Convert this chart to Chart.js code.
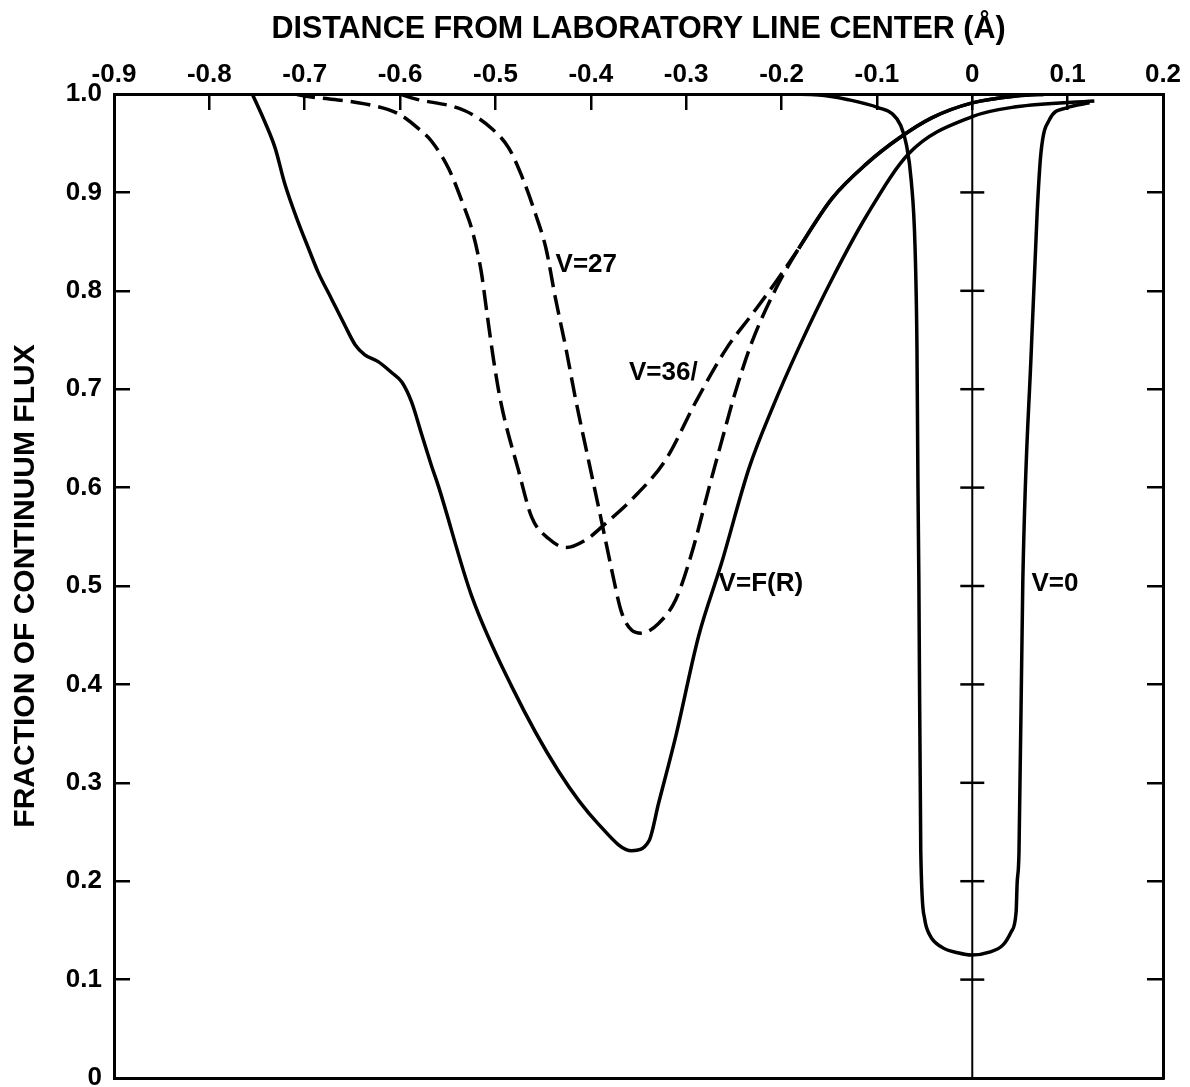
<!DOCTYPE html>
<html>
<head>
<meta charset="utf-8">
<script src="https://cdn.jsdelivr.net/npm/chart.js@4.4.1/dist/chart.umd.min.js"></script>
<style>
  html, body { margin: 0; padding: 0; background: #fff; }
</style>
</head>
<body>
<canvas id="chart" width="1190" height="1087"></canvas>
<script>
// tick values on the axes
const xTickValues = [-0.9, -0.8, -0.7, -0.6, -0.5, -0.4, -0.3, -0.2, -0.1, 0, 0.1, 0.2];
const yTickValues = [0, 0.1, 0.2, 0.3, 0.4, 0.5, 0.6, 0.7, 0.8, 0.9, 1.0];
// small cross ticks on the x = 0 line
const crossY = [0.1, 0.2, 0.3, 0.4, 0.5, 0.6, 0.7, 0.8, 0.9];

// profiles: [distance (A), fraction of continuum]
const profileFR = [
  [-0.755, 1.0], [-0.742, 0.972], [-0.731, 0.945], [-0.721, 0.909], [-0.707, 0.870],
  [-0.696, 0.843], [-0.686, 0.819], [-0.672, 0.792], [-0.658, 0.765], [-0.647, 0.745],
  [-0.637, 0.735], [-0.623, 0.728], [-0.609, 0.717], [-0.598, 0.707], [-0.588, 0.687],
  [-0.578, 0.656], [-0.567, 0.622], [-0.560, 0.602], [-0.525, 0.490], [-0.483, 0.398],
  [-0.434, 0.312], [-0.392, 0.258], [-0.357, 0.231], [-0.339, 0.241], [-0.329, 0.279],
  [-0.311, 0.347], [-0.287, 0.449], [-0.263, 0.523], [-0.234, 0.620], [-0.210, 0.680],
  [-0.182, 0.742], [-0.147, 0.812], [-0.111, 0.876], [-0.066, 0.940], [0, 0.977],
  [0.046, 0.987], [0.128, 0.993]
];

const profileV36 = [
  [-0.71, 1.0], [-0.70, 0.998], [-0.637, 0.990], [-0.602, 0.980], [-0.581, 0.965],
  [-0.567, 0.952], [-0.549, 0.924], [-0.534, 0.888], [-0.524, 0.860], [-0.515, 0.820],
  [-0.509, 0.778], [-0.502, 0.730], [-0.494, 0.685], [-0.476, 0.618], [-0.462, 0.570],
  [-0.444, 0.548], [-0.426, 0.539], [-0.405, 0.547], [-0.384, 0.564], [-0.357, 0.588],
  [-0.321, 0.629], [-0.290, 0.687], [-0.258, 0.741], [-0.231, 0.776], [-0.206, 0.809],
  [-0.182, 0.843], [-0.147, 0.894], [-0.111, 0.929], [-0.077, 0.955], [-0.042, 0.976],
  [0, 0.991], [0.046, 0.998], [0.081, 1.0]
];

const profileV27 = [
  [-0.600, 1.0], [-0.588, 0.996], [-0.532, 0.983], [-0.504, 0.965], [-0.486, 0.945],
  [-0.473, 0.918], [-0.458, 0.878], [-0.447, 0.843], [-0.437, 0.792], [-0.426, 0.741],
  [-0.416, 0.690], [-0.402, 0.626], [-0.389, 0.567], [-0.378, 0.516], [-0.368, 0.474],
  [-0.357, 0.455], [-0.347, 0.452], [-0.329, 0.462], [-0.311, 0.486], [-0.294, 0.534],
  [-0.276, 0.600], [-0.262, 0.650], [-0.250, 0.692], [-0.231, 0.748], [-0.206, 0.802],
  [-0.182, 0.843], [-0.147, 0.894], [-0.111, 0.929], [-0.077, 0.955], [-0.042, 0.976],
  [0, 0.991], [0.046, 0.998], [0.081, 1.0]
];

const profileV0 = [
  [-0.22, 1.0], [-0.161, 0.999], [-0.129, 0.994], [-0.098, 0.986], [-0.084, 0.980],
  [-0.075, 0.968], [-0.069, 0.948], [-0.064, 0.912], [-0.060, 0.844], [-0.058, 0.742],
  [-0.057, 0.607], [-0.056, 0.505], [-0.054, 0.230], [-0.050, 0.162], [-0.045, 0.146],
  [-0.032, 0.133], [-0.014, 0.127], [-0.001, 0.125], [0.018, 0.128], [0.032, 0.135],
  [0.041, 0.149], [0.046, 0.169], [0.047, 0.197], [0.049, 0.230], [0.053, 0.505],
  [0.062, 0.742], [0.068, 0.879], [0.072, 0.940], [0.081, 0.974], [0.099, 0.986],
  [0.123, 0.991]
];

// where the dashed part of the V=27 / V=36 curves ends
const dashEndX = -0.183;

const curveLabels = [
  { text: "V=27", x: -0.437, y: 0.826 },
  { text: "V=36/", x: -0.360, y: 0.717 },
  { text: "V=F(R)", x: -0.266, y: 0.502 },
  { text: "V=0", x: 0.062, y: 0.502 }
];

const FONT = "'Liberation Sans', Arial, sans-serif";
const toPoints = (arr) => arr.map(([x, y]) => ({ x, y }));
const fmt = (v) => (Math.abs(v) < 1e-9 ? "0" : Number(v).toFixed(1));

// drop the extra room Chart.js keeps for edge labels, the frame is placed by hand
const fixSize = (prop, size) => (s) => {
  s[prop] = size;
  s.paddingLeft = s.paddingRight = s.paddingTop = s.paddingBottom = 0;
};

const whiteBg = {
  id: "whiteBg",
  beforeDraw(chart) {
    const c = chart.ctx;
    c.save();
    c.fillStyle = "#fff";
    c.fillRect(0, 0, chart.width, chart.height);
    c.restore();
  }
};

const labelPlugin = {
  id: "curveLabels",
  afterDatasetsDraw(chart) {
    const c = chart.ctx;
    const xs = chart.scales.x, ys = chart.scales.y;
    c.save();
    c.fillStyle = "#000";
    c.font = "bold 26px " + FONT;
    c.textAlign = "left";
    c.textBaseline = "middle";
    curveLabels.forEach((l) => {
      c.fillText(l.text, xs.getPixelForValue(l.x), ys.getPixelForValue(l.y));
    });
    c.restore();
  }
};

const lineStyle = {
  borderColor: "#000",
  borderWidth: 3.5,
  pointRadius: 0,
  fill: false,
  cubicInterpolationMode: "monotone"
};

const dashedUntil = (ctx) => (ctx.p0.parsed.x < dashEndX ? [20, 8] : undefined);

new Chart(document.getElementById("chart"), {
  type: "line",
  data: {
    datasets: [
      { label: "V=F(R)", data: toPoints(profileFR), ...lineStyle },
      { label: "V=36", data: toPoints(profileV36), ...lineStyle, borderDash: [], segment: { borderDash: dashedUntil } },
      { label: "V=27", data: toPoints(profileV27), ...lineStyle, borderDash: [], segment: { borderDash: dashedUntil } },
      { label: "V=0", data: toPoints(profileV0), ...lineStyle },
      {
        label: "center",
        data: [{ x: 0, y: 0 }, { x: 0, y: 1 }],
        borderColor: "#000", borderWidth: 2, pointRadius: 0, tension: 0
      },
      {
        label: "crosses",
        data: crossY.map((y) => ({ x: 0, y })),
        showLine: false, pointStyle: "line", pointRadius: 12,
        borderColor: "#000", pointBorderWidth: 2.5
      }
    ]
  },
  options: {
    responsive: false,
    animation: false,
    events: [],
    layout: { padding: 0, autoPadding: false },
    plugins: { legend: { display: false }, tooltip: { enabled: false } },
    scales: {
      x: {
        type: "linear",
        position: "top",
        min: -0.9,
        max: 0.2,
        afterBuildTicks: (s) => { s.ticks = xTickValues.map((v) => ({ value: v })); },
        afterFit: fixSize("height", 94),
        grid: { drawOnChartArea: false, drawTicks: true, tickLength: -16, color: "#000", lineWidth: 2.5 },
        border: { display: true, color: "#000", width: 3 },
        ticks: {
          color: "#000", padding: 20, maxRotation: 0, autoSkip: false,
          font: { family: FONT, size: 26, weight: "bold" },
          callback: (v) => fmt(v)
        },
        title: {
          display: true,
          text: "DISTANCE FROM LABORATORY LINE CENTER (Å)",
          color: "#000",
          font: { family: FONT, size: 30.5, weight: "bold" },
          padding: { top: 11, bottom: 0 }
        }
      },
      xb: {
        type: "linear",
        position: "bottom",
        min: -0.9,
        max: 0.2,
        afterFit: fixSize("height", 9),
        grid: { drawOnChartArea: false, drawTicks: false },
        border: { display: true, color: "#000", width: 3 },
        ticks: { display: false }
      },
      y: {
        type: "linear",
        position: "left",
        min: 0,
        max: 1,
        afterBuildTicks: (s) => { s.ticks = yTickValues.map((v) => ({ value: v })); },
        afterFit: fixSize("width", 114),
        grid: { drawOnChartArea: false, drawTicks: true, tickLength: -16, color: "#000", lineWidth: 2.5 },
        border: { display: true, color: "#000", width: 3 },
        ticks: {
          color: "#000", padding: 28, autoSkip: false,
          font: { family: FONT, size: 26, weight: "bold" },
          callback: (v) => fmt(v)
        },
        title: {
          display: true,
          text: "FRACTION OF CONTINUUM FLUX",
          color: "#000",
          font: { family: FONT, size: 30, weight: "bold" },
          padding: { top: 8, bottom: 0 }
        }
      },
      yr: {
        type: "linear",
        position: "right",
        min: 0,
        max: 1,
        afterBuildTicks: (s) => { s.ticks = yTickValues.map((v) => ({ value: v })); },
        afterFit: fixSize("width", 27),
        grid: { drawOnChartArea: false, drawTicks: true, tickLength: -16, color: "#000", lineWidth: 2.5 },
        border: { display: true, color: "#000", width: 3 },
        ticks: { display: false }
      }
    }
  },
  plugins: [whiteBg, labelPlugin]
});
</script>
</body>
</html>
